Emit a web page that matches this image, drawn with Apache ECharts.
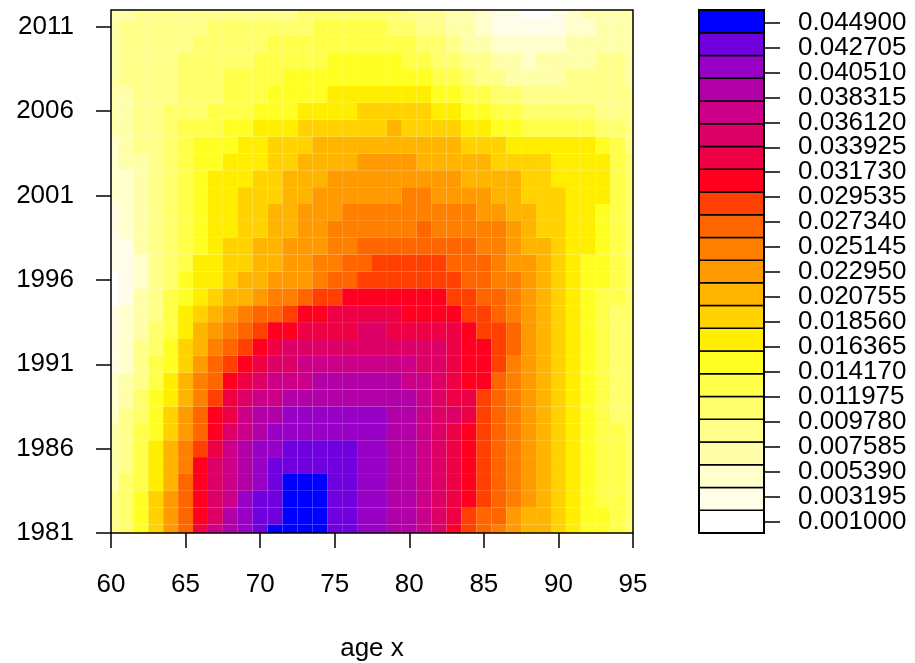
<!DOCTYPE html>
<html>
<head>
<meta charset="utf-8">
<script src="https://cdn.jsdelivr.net/npm/echarts@6/dist/echarts.min.js"></script>
<style>
  html, body { margin: 0; background: #fff; }
  #chart { width: 915px; height: 663px; }
</style>
</head>
<body>
<div id="chart"></div>
<script>
// grid of the surface: ages (x) and calendar years (y)
const ages = [60, 61, 62, 63, 64, 65, 66, 67, 68, 69, 70, 71, 72, 73, 74, 75, 76, 77,
              78, 79, 80, 81, 82, 83, 84, 85, 86, 87, 88, 89, 90, 91, 92, 93, 94, 95];
const years = [1981, 1982, 1983, 1984, 1985, 1986, 1987, 1988, 1989, 1990, 1991, 1992, 1993, 1994, 1995, 1996,
               1997, 1998, 1999, 2000, 2001, 2002, 2003, 2004, 2005, 2006, 2007, 2008, 2009, 2010, 2011, 2012];
const yearTicks = [1981, 1986, 1991, 1996, 2001, 2006, 2011];

// one row per year, one value per age (in units of 0.001)
const r1981 = [8.8, 11.5, 15.5, 19.5, 23.3, 27.6, 32.3, 36.0, 38.4, 40.5, 42.6, 44.05, 44.6, 44.9, 44.5, 43.6, 42.8, 41.8, 40.4, 39.0, 38.1, 36.4, 34.2, 31.9, 29.6, 27.6, 25.8, 23.6, 21.8, 20.3, 18.8, 17.2, 15.5, 14.05, 12.5, 11.3];
const r1982 = [8.4, 11.1, 15.0, 19.05, 22.9, 27.2, 31.9, 35.6, 38.2, 40.4, 42.5, 43.95, 44.6, 44.9, 44.6, 43.8, 42.9, 41.9, 40.6, 39.2, 38.2, 36.6, 34.5, 32.2, 29.9, 27.8, 26.05, 23.8, 21.9, 20.3, 18.8, 17.2, 15.5, 14.05, 12.4, 11.2];
const r1983 = [8.05, 10.7, 14.5, 18.5, 22.4, 26.7, 31.3, 35.1, 37.9, 40.1, 42.2, 43.8, 44.4, 44.7, 44.5, 43.9, 43.05, 41.95, 40.8, 39.4, 38.3, 36.8, 34.8, 32.5, 30.2, 28.1, 26.2, 24.05, 22.05, 20.4, 18.9, 17.2, 15.5, 13.9, 12.3, 11.2];
const r1984 = [7.5, 10.2, 13.9, 17.9, 21.8, 26.1, 30.7, 34.6, 37.6, 39.9, 41.9, 43.3, 44.05, 44.25, 44.15, 43.7, 43.05, 41.95, 40.9, 39.6, 38.4, 37.05, 35.05, 32.8, 30.5, 28.4, 26.4, 24.2, 22.2, 20.5, 18.9, 17.2, 15.4, 13.8, 12.2, 11.1];
const r1985 = [7.05, 9.7, 13.3, 17.3, 21.2, 25.5, 30.1, 34.05, 37.1, 39.6, 41.6, 42.9, 43.5, 43.75, 43.7, 43.4, 42.7, 41.9, 40.9, 39.7, 38.5, 37.1, 35.3, 33.2, 31.05, 28.8, 26.6, 24.4, 22.3, 20.5, 18.9, 17.1, 15.4, 13.7, 12.1, 11.05];
const r1986 = [6.5, 9.2, 12.7, 16.6, 20.5, 24.6, 29.05, 33.05, 36.2, 38.7, 40.6, 41.8, 42.4, 42.7, 42.9, 42.8, 42.4, 41.7, 40.8, 39.7, 38.6, 37.2, 35.5, 33.5, 31.3, 29.1, 26.9, 24.6, 22.4, 20.6, 18.9, 17.1, 15.3, 13.6, 12.05, 11.05];
const r1987 = [6.05, 8.7, 12.1, 15.9, 19.7, 23.7, 27.9, 31.8, 35.05, 37.5, 39.4, 40.6, 41.3, 41.7, 41.9, 41.95, 41.8, 41.3, 40.6, 39.7, 38.6, 37.3, 35.7, 33.8, 31.7, 29.5, 27.2, 24.9, 22.6, 20.7, 18.9, 17.1, 15.3, 13.5, 12.05, 10.9];
const r1988 = [5.4, 8.05, 11.3, 15.05, 18.7, 22.6, 26.6, 30.4, 33.6, 36.1, 38.05, 39.3, 40.1, 40.6, 40.9, 41.05, 40.9, 40.6, 40.1, 39.4, 38.5, 37.3, 35.8, 34.05, 32.05, 29.8, 27.5, 25.1, 22.8, 20.8, 18.9, 17.1, 15.3, 13.4, 11.9, 10.9];
const r1989 = [4.8, 7.3, 10.5, 14.1, 17.7, 21.5, 25.4, 29.05, 32.1, 34.6, 36.5, 37.8, 38.7, 39.2, 39.6, 39.8, 39.85, 39.7, 39.4, 38.9, 38.1, 36.9, 35.4, 33.7, 32.05, 29.95, 27.6, 25.2, 23.05, 21.05, 19.05, 17.1, 15.3, 13.5, 11.8, 10.8];
const r1990 = [4.2, 6.6, 9.7, 13.2, 16.7, 20.4, 24.2, 27.7, 30.7, 33.2, 35.1, 36.4, 37.3, 37.8, 38.1, 38.3, 38.4, 38.4, 38.3, 38.05, 37.4, 36.5, 35.2, 33.7, 31.95, 30.1, 27.8, 25.5, 23.2, 21.1, 19.1, 17.1, 15.3, 13.5, 11.9, 10.8];
const r1991 = [3.6, 5.9, 8.9, 12.3, 15.7, 19.3, 23.05, 26.2, 28.6, 30.6, 32.6, 34.3, 35.5, 36.3, 36.8, 37.1, 37.3, 37.4, 37.4, 37.2, 36.6, 35.8, 34.7, 33.4, 31.9, 30.2, 28.05, 25.8, 23.4, 21.3, 19.2, 17.2, 15.3, 13.5, 11.9, 10.8];
const r1992 = [3.05, 5.2, 8.1, 11.4, 14.7, 18.2, 21.7, 24.9, 27.5, 29.4, 31.2, 32.8, 34.05, 34.8, 35.3, 35.6, 35.8, 35.9, 35.9, 35.8, 35.4, 34.8, 34.05, 33.05, 31.8, 30.2, 28.2, 26.05, 23.6, 21.4, 19.3, 17.3, 15.4, 13.6, 11.9, 10.8];
const r1993 = [2.6, 4.6, 7.3, 10.5, 13.7, 17.05, 20.3, 23.3, 25.8, 27.6, 29.05, 30.3, 31.5, 32.5, 33.3, 33.7, 33.9, 34.05, 34.05, 33.9, 33.6, 33.3, 33.05, 32.5, 31.4, 29.9, 28.05, 26.05, 23.8, 21.6, 19.4, 17.4, 15.4, 13.6, 11.9, 10.8];
const r1994 = [2.2, 4.2, 6.8, 9.9, 13.05, 16.05, 18.5, 20.4, 22.4, 24.3, 26.05, 27.5, 28.9, 30.2, 31.3, 32.05, 32.25, 32.3, 32.3, 32.2, 31.95, 31.6, 31.1, 30.5, 29.6, 28.05, 26.6, 25.05, 23.1, 21.1, 19.1, 17.1, 15.2, 13.4, 11.9, 10.6];
const r1995 = [1.9, 3.8, 6.4, 9.4, 12.3, 15.4, 17.4, 19.2, 20.6, 21.7, 22.9, 24.1, 25.2, 26.4, 28.05, 29.2, 30.1, 30.6, 30.8, 30.9, 30.9, 30.7, 30.3, 29.6, 28.5, 27.1, 26.1, 24.5, 22.8, 21.05, 19.1, 17.1, 15.4, 13.8, 12.2, 10.8];
const r1996 = [1.6, 3.4, 5.8, 8.6, 11.3, 14.05, 16.2, 17.6, 18.8, 20.05, 21.05, 22.05, 23.05, 23.9, 24.9, 26.05, 27.2, 28.3, 29.1, 29.4, 29.5, 29.4, 29.05, 28.4, 27.8, 26.5, 25.5, 24.05, 22.3, 20.7, 19.1, 17.2, 15.6, 14.05, 12.4, 11.05];
const r1997 = [2.05, 3.6, 5.9, 8.6, 11.3, 13.8, 16.05, 17.2, 18.5, 19.6, 20.6, 21.6, 22.6, 23.5, 24.4, 25.3, 26.2, 27.2, 28.05, 28.3, 28.35, 28.3, 28.05, 27.4, 26.7, 26.1, 24.9, 23.7, 22.2, 20.8, 19.1, 17.4, 15.7, 14.1, 12.6, 11.2];
const r1998 = [2.5, 3.9, 6.05, 8.5, 11.05, 13.6, 15.9, 17.1, 18.1, 19.1, 20.1, 21.1, 22.05, 22.9, 23.8, 24.6, 25.5, 26.3, 26.8, 27.1, 27.2, 27.2, 27.05, 26.7, 26.3, 25.6, 24.4, 23.05, 21.6, 20.3, 18.9, 17.4, 16.05, 14.6, 13.1, 11.5];
const r1999 = [3.05, 4.3, 6.2, 8.6, 11.05, 13.4, 15.8, 17.05, 17.9, 18.8, 19.8, 20.7, 21.6, 22.4, 23.2, 24.05, 24.6, 25.2, 25.6, 25.85, 25.95, 26.05, 25.95, 25.7, 25.2, 24.6, 24.2, 22.05, 20.7, 19.6, 18.3, 17.05, 16.2, 14.9, 13.4, 11.8];
const r2000 = [3.5, 4.7, 6.5, 8.7, 11.05, 13.4, 15.6, 16.9, 17.6, 18.6, 19.6, 20.5, 21.3, 22.05, 22.7, 23.4, 24.05, 24.5, 24.8, 25.05, 25.05, 25.05, 24.9, 24.6, 24.3, 23.9, 22.2, 21.3, 20.4, 19.3, 18.4, 17.5, 16.6, 15.4, 13.3, 11.2];
const r2001 = [4.05, 5.1, 6.8, 8.9, 11.1, 13.4, 15.5, 16.4, 17.3, 18.2, 19.1, 19.95, 20.7, 21.4, 22.1, 22.7, 23.2, 23.6, 23.85, 23.95, 24.05, 24.05, 23.8, 23.3, 22.7, 22.2, 21.4, 20.7, 19.9, 19.1, 18.3, 17.5, 16.7, 16.05, 13.2, 10.9];
const r2002 = [4.6, 5.6, 7.2, 9.1, 11.2, 13.3, 15.2, 16.1, 16.9, 17.7, 18.6, 19.3, 20.1, 20.8, 21.4, 22.05, 22.5, 22.9, 23.05, 23.1, 23.1, 22.9, 22.5, 22.1, 21.6, 21.05, 20.5, 20.1, 19.3, 18.2, 17.5, 17.05, 16.5, 16.05, 13.9, 10.6];
const r2003 = [5.2, 6.1, 7.5, 9.3, 11.2, 13.1, 14.8, 15.6, 16.4, 17.1, 17.8, 18.6, 19.4, 20.2, 20.8, 21.3, 21.7, 22.05, 22.1, 22.1, 22.05, 21.8, 21.5, 21.1, 20.7, 20.3, 19.9, 19.3, 18.6, 18.1, 17.6, 17.1, 16.5, 16.1, 13.6, 10.3];
const r2004 = [5.8, 6.7, 8.05, 9.5, 11.3, 12.9, 14.05, 14.9, 15.8, 16.6, 17.3, 18.05, 18.8, 19.5, 20.05, 20.5, 20.9, 21.05, 21.1, 21.1, 21.05, 20.7, 20.4, 20.1, 19.5, 18.9, 18.2, 17.4, 16.6, 16.4, 16.3, 16.2, 16.05, 14.2, 12.05, 9.8];
const r2005 = [6.3, 7.1, 8.2, 9.6, 11.2, 12.2, 13.1, 13.9, 14.7, 15.4, 16.1, 16.8, 17.4, 18.05, 18.6, 19.1, 19.5, 19.8, 19.95, 20.05, 19.9, 19.5, 18.9, 18.1, 17.2, 16.2, 15.2, 14.2, 13.4, 13.05, 12.8, 12.6, 12.2, 11.3, 10.3, 9.3];
const r2006 = [6.8, 7.6, 8.4, 9.3, 10.2, 11.05, 11.8, 12.6, 13.2, 13.8, 14.3, 14.9, 15.5, 16.1, 16.8, 17.4, 17.9, 18.2, 18.4, 18.5, 18.4, 18.05, 17.4, 16.6, 15.6, 14.5, 13.3, 12.2, 11.3, 10.8, 10.6, 10.5, 10.4, 9.9, 9.2, 8.6];
const r2007 = [7.2, 7.8, 8.5, 9.2, 9.9, 10.6, 11.3, 11.9, 12.5, 13.1, 13.7, 14.3, 14.9, 15.4, 15.9, 16.4, 16.8, 17.05, 17.1, 17.05, 16.6, 16.05, 15.2, 14.4, 13.6, 12.8, 11.2, 10.05, 9.2, 8.9, 8.9, 9.1, 9.4, 9.3, 8.8, 8.3];
const r2008 = [7.5, 8.05, 8.6, 9.2, 9.7, 10.3, 10.9, 11.4, 12.05, 12.5, 13.05, 13.5, 14.05, 14.5, 14.9, 15.3, 15.6, 15.7, 15.6, 15.3, 14.8, 14.05, 13.1, 12.2, 11.2, 9.8, 8.8, 7.9, 7.3, 7.2, 7.5, 8.05, 8.4, 8.5, 8.2, 7.8];
const r2009 = [7.6, 8.3, 8.7, 9.1, 9.5, 10.05, 10.5, 11.05, 11.4, 11.8, 12.2, 12.6, 13.05, 13.4, 13.8, 14.1, 14.3, 14.4, 14.3, 14.05, 13.4, 12.5, 11.5, 10.4, 9.4, 8.5, 7.6, 6.7, 5.9, 6.05, 6.6, 7.3, 7.9, 8.2, 8.1, 7.7];
const r2010 = [7.5, 8.3, 8.6, 8.9, 9.3, 9.7, 10.1, 10.5, 10.9, 11.3, 11.7, 12.1, 12.5, 12.8, 13.1, 13.3, 13.4, 13.4, 13.2, 12.7, 12.05, 11.1, 10.05, 8.9, 7.8, 6.7, 5.6, 4.7, 4.3, 4.4, 5.1, 6.05, 6.9, 7.4, 7.5, 7.4];
const r2011 = [7.3, 8.1, 8.5, 8.8, 9.1, 9.4, 9.7, 10.05, 10.3, 10.6, 10.9, 11.3, 11.6, 11.9, 12.1, 12.25, 12.3, 12.3, 12.05, 11.5, 10.7, 9.7, 8.6, 7.4, 6.3, 5.1, 3.9, 3.05, 2.7, 2.8, 3.5, 4.6, 5.7, 6.5, 7.05, 7.2];
const r2012 = [7.05, 7.9, 8.3, 8.6, 8.8, 9.05, 9.2, 9.3, 9.5, 9.6, 9.7, 9.8, 9.9, 10.1, 10.5, 10.9, 11.2, 11.3, 11.1, 10.6, 9.9, 9.1, 8.3, 7.5, 6.5, 5.2, 3.8, 2.3, 1.2, 1.0, 2.6, 4.4, 6.1, 6.6, 6.9, 7.05];
const rows = [r1981, r1982, r1983, r1984, r1985, r1986, r1987, r1988, r1989, r1990, r1991, r1992, r1993, r1994, r1995, r1996,
              r1997, r1998, r1999, r2000, r2001, r2002, r2003, r2004, r2005, r2006, r2007, r2008, r2009, r2010, r2011, r2012];

// colour key: level breaks, fill colours, printed labels
const levelBreaks = [0, 0.002, 0.004, 0.006, 0.008, 0.010, 0.012, 0.014, 0.016, 0.018, 0.020, 0.022,
                     0.024, 0.026, 0.028, 0.030, 0.032, 0.034, 0.036, 0.038, 0.040, 0.042, 0.044, 0.046];
const levelColors = ['#ffffff', '#fffde8', '#ffffcc', '#ffffaa', '#ffff8a', '#ffff6c', '#ffff4a', '#ffff24',
                     '#ffee00', '#ffd200', '#ffb400', '#ff9a00', '#ff8000', '#ff6600', '#ff4000', '#ff0020',
                     '#ee0044', '#dd0066', '#cc0088', '#b000a6', '#9900c6', '#7000dd', '#0000ff'];
const keyLabels = [0.001, 0.003195, 0.00539, 0.007585, 0.00978, 0.011975, 0.01417, 0.016365, 0.01856, 0.020755, 0.02295,
                   0.025145, 0.02734, 0.029535, 0.031730, 0.033925, 0.03612, 0.038315, 0.04051, 0.042705, 0.0449];

const surface = [];
rows.forEach((row, j) => {
    row.forEach((v, i) => {
        surface.push([ages[i], years[j], v / 1000]);
    });
});
const keyBoxes = levelColors.map((c, k) => [levelBreaks[k], levelBreaks[k + 1], (levelBreaks[k] + levelBreaks[k + 1]) / 2]);
// the key labels sit closer than their text height, so they are split over two
// overlapping axes to stop echarts from dropping every other one
const keyLabelsEven = keyLabels.filter((v, i) => i % 2 === 0);
const keyLabelsOdd = keyLabels.filter((v, i) => i % 2 === 1);

const font = 'Liberation Sans, Arial, sans-serif';

function renderCell(params, api) {
    const a = api.value(0), y = api.value(1);
    const p0 = api.coord([a - 0.5, y + 0.5]);
    const p1 = api.coord([a + 0.5, y - 0.5]);
    const shape = echarts.graphic.clipRectByRect(
        {x: p0[0], y: p0[1], width: p1[0] - p0[0], height: p1[1] - p0[1]},
        {x: params.coordSys.x, y: params.coordSys.y, width: params.coordSys.width, height: params.coordSys.height}
    );
    if (!shape) return;
    return {type: 'rect', shape: shape, style: {fill: api.visual('color')}};
}

function renderKeyBox(params, api) {
    const p0 = api.coord([0, api.value(1)]);
    const p1 = api.coord([1, api.value(0)]);
    return {
        type: 'rect',
        shape: {x: p0[0], y: p0[1], width: p1[0] - p0[0], height: p1[1] - p0[1]},
        style: {fill: api.visual('color'), stroke: '#000', lineWidth: 1.5}
    };
}

function keyAxis(values) {
    return {
        gridIndex: 1, type: 'value', min: 0, max: 0.046, position: 'right', offset: 0, z: 20,
        axisLine: {show: false, onZero: false},
        axisTick: {show: true, inside: false, length: 16, customValues: values, lineStyle: {color: '#000', width: 1.5}},
        axisLabel: {
            fontSize: 26, color: '#000', margin: 34, customValues: values, fontFamily: font,
            showMinLabel: true, showMaxLabel: true, formatter: v => v.toFixed(6)
        },
        splitLine: {show: false}
    };
}

const chart = echarts.init(document.getElementById('chart'), null, {renderer: 'canvas'});
chart.setOption({
    animation: false,
    backgroundColor: '#fff',
    textStyle: {fontFamily: font},
    grid: [
        {left: 111, top: 10, width: 522, height: 523, outerBoundsMode: 'none',
         show: true, borderColor: '#000', borderWidth: 1.5, z: 10},
        {left: 699, top: 10, width: 65, height: 523, outerBoundsMode: 'none',
         show: true, borderColor: '#000', borderWidth: 2, z: 10}
    ],
    xAxis: [
        {
            gridIndex: 0, type: 'value', min: 60, max: 95, interval: 5,
            axisLine: {show: false, onZero: false},
            axisTick: {show: true, inside: false, length: 15, lineStyle: {color: '#000', width: 1.5}},
            axisLabel: {fontSize: 26, color: '#000', margin: 39, fontFamily: font},
            splitLine: {show: false},
            name: 'age x', nameLocation: 'middle', nameGap: 103,
            nameTextStyle: {fontSize: 26, color: '#000', fontFamily: font}
        },
        {gridIndex: 1, type: 'value', min: 0, max: 1, show: false, axisLine: {onZero: false}}
    ],
    yAxis: [
        {
            gridIndex: 0, type: 'value', min: 1981, max: 2012,
            axisLine: {show: false, onZero: false},
            axisTick: {show: true, length: 15, customValues: yearTicks, lineStyle: {color: '#000', width: 1.5}},
            axisLabel: {
                fontSize: 26, color: '#000', margin: 37, customValues: yearTicks, fontFamily: font,
                showMinLabel: true, showMaxLabel: true, formatter: v => String(v)
            },
            splitLine: {show: false}
        },
        keyAxis(keyLabelsEven),
        keyAxis(keyLabelsOdd)
    ],
    visualMap: {
        type: 'piecewise', show: false, seriesIndex: [0, 1], dimension: 2,
        pieces: levelColors.map((c, k) => ({gte: levelBreaks[k], lt: levelBreaks[k + 1], color: c}))
    },
    series: [
        {
            type: 'custom', xAxisIndex: 0, yAxisIndex: 0, clip: true,
            encode: {x: 0, y: 1}, renderItem: renderCell, data: surface
        },
        {
            type: 'custom', xAxisIndex: 1, yAxisIndex: 1,
            encode: {y: [0, 1]}, renderItem: renderKeyBox, data: keyBoxes
        }
    ]
});
</script>
</body>
</html>
